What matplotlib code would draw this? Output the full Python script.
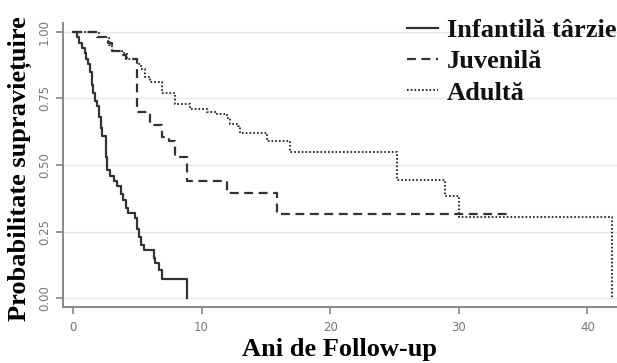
import matplotlib.pyplot as plt

# Kaplan-Meier curves: (time, survival after step)
inf_t = [0, 0.3, 0.5, 0.7, 0.9, 1.0, 1.2, 1.35, 1.45, 1.55, 1.7, 1.9, 2.05, 2.15, 2.25,
         2.55, 2.6, 2.65, 2.9, 3.2, 3.45, 3.7, 3.9, 4.1, 4.3, 4.8, 5.0, 5.1, 5.3, 5.5,
         6.3, 6.4, 6.7, 6.9, 8.9]
inf_s = [1.0, 0.98, 0.96, 0.94, 0.92, 0.90, 0.88, 0.85, 0.80, 0.77, 0.74, 0.72, 0.68, 0.64, 0.61,
         0.58, 0.53, 0.48, 0.46, 0.44, 0.42, 0.39, 0.37, 0.34, 0.32, 0.30, 0.26, 0.23, 0.20, 0.18,
         0.15, 0.13, 0.105, 0.072, 0.0]

juv_t = [0, 1.9, 2.7, 3.0, 3.8, 4.1, 4.95, 6.0, 6.9, 7.5, 7.9, 8.9, 12.0, 15.9, 34.0]
juv_s = [1.0, 0.98, 0.96, 0.93, 0.915, 0.90, 0.70, 0.65, 0.605, 0.59, 0.53, 0.44, 0.395, 0.315, 0.315]

adu_t = [0, 2.0, 2.8, 3.0, 3.8, 4.2, 5.0, 5.3, 5.6, 6.0, 6.9, 7.9, 9.1, 10.4, 11.2, 12.0,
         12.2, 12.8, 13.0, 15.1, 16.9, 25.2, 28.9, 30.0, 41.9]
adu_s = [1.0, 0.98, 0.95, 0.93, 0.92, 0.90, 0.88, 0.86, 0.83, 0.81, 0.77, 0.73, 0.71, 0.70, 0.69, 0.675,
         0.655, 0.645, 0.62, 0.59, 0.55, 0.445, 0.385, 0.305, 0.0]

labels = ['Infantilă târzie', 'Juvenilă', 'Adultă']
x_ticks = [0, 10, 20, 30, 40]
y_ticks = [0.00, 0.25, 0.50, 0.75, 1.00]

fig = plt.figure(figsize=(6.17, 3.63), dpi=100)
ax = fig.add_axes([0.102, 0.154, 0.898, 0.783])

line_col = '#333333'
ax.step(inf_t, inf_s, where='post', color=line_col, lw=1.6, ls='-', label=labels[0])
ax.step(juv_t, juv_s, where='post', color=line_col, lw=1.6, ls=(0, (4, 2.5)), label=labels[1])
ax.step(adu_t, adu_s, where='post', color=line_col, lw=1.5, ls=(0, (0.8, 1.0)), label=labels[2])

ax.set_xlim(-0.78, 42.3)
ax.set_ylim(-0.034, 1.034)
ax.set_xticks(x_ticks)
ax.set_yticks(y_ticks)
ax.set_yticklabels([f'{v:.2f}' for v in y_ticks], rotation=90, va='center')

for y in y_ticks:
    ax.axhline(y, color='#e6e6e6', lw=1.0, zorder=0)

for s in ['top', 'right']:
    ax.spines[s].set_visible(False)
for s in ['left', 'bottom']:
    ax.spines[s].set_color('#888888')
    ax.spines[s].set_linewidth(1.4)
ax.tick_params(colors='#888888', labelcolor='#777777', labelsize=8.5, length=5, width=1.2)
ax.tick_params(axis='x', pad=5)

serif = {'family': 'Liberation Serif', 'weight': 'bold'}
ax.set_xlabel('Ani de Follow-up', fontdict=dict(serif, size=19), labelpad=3)
ax.set_ylabel('Probabilitate supraviețuire', fontdict=dict(serif, size=19))
ax.yaxis.set_label_coords(-0.056, 0.487)

leg = ax.legend(loc='upper right', bbox_to_anchor=(1.018, 1.053), frameon=False,
                prop={'family': 'Liberation Serif', 'weight': 'bold', 'size': 19},
                handlelength=1.15, handletextpad=0.35, labelspacing=0.3, borderaxespad=0)
for t in leg.get_texts():
    t.set_color('#111111')

fig.savefig('out.png', dpi=100)
